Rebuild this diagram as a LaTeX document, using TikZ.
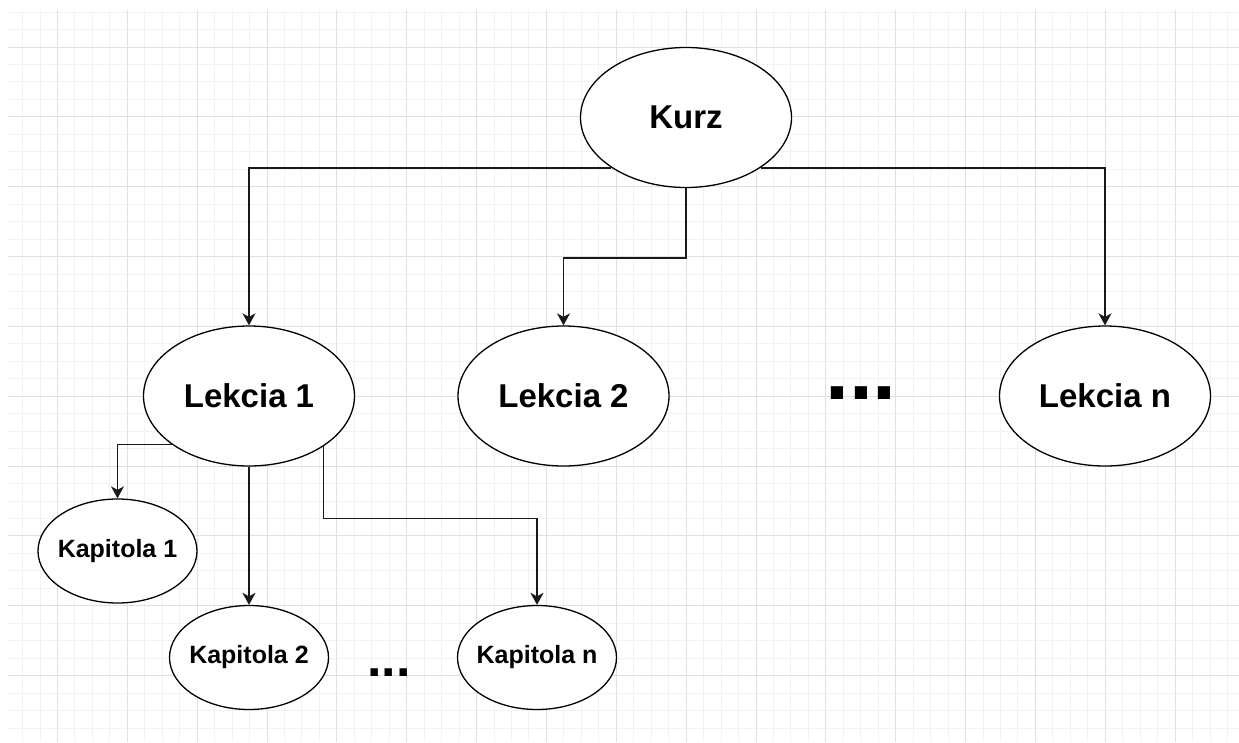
\documentclass[tikz,border=0pt]{standalone}
\usepackage{fontspec}
\setmainfont{Liberation Sans}
\usetikzlibrary{arrows.meta,shapes.geometric}
\begin{document}
\begin{tikzpicture}[x=1pt,y=-1pt,
  minorline/.style={draw=black!5, line width=1pt},
  majorline/.style={draw=black!12, line width=1pt},
  bigbubble/.style={ellipse, draw=black, line width=1.3pt, fill=white, inner sep=0pt,
    minimum width=211pt, minimum height=140pt, font=\bfseries\fontsize{33}{33}\selectfont},
  smallbubble/.style={ellipse, draw=black, line width=1.3pt, fill=white, inner ysep=0pt, inner xsep=-8pt,
    minimum width=159pt, minimum height=104pt, font=\bfseries\fontsize{25}{25}\selectfont},
  conn/.style={draw=black!90, line width=1.5pt, -{Stealth[length=12pt,width=13pt,inset=3.5pt]}},
  bigdots/.style={inner sep=0pt, anchor=base, font=\bfseries\fontsize{86}{86}\selectfont},
  smalldots/.style={inner sep=0pt, anchor=base, font=\bfseries\fontsize{52}{52}\selectfont}
]
\useasboundingbox (0,0) rectangle (1239,742);
\fill[white] (0,0) rectangle (1239,742);
\begin{scope}
  \clip (8,10) rectangle (1239,742);
  \foreach \k in {0,...,71} \draw[minorline] ({5.11+17.4625*\k},0) -- ++(0,742);
  \foreach \k in {0,...,42} \draw[minorline] (0,{12.1+17.4625*\k}) -- ++(1239,0);
  \foreach \k in {0,...,17} \draw[majorline] ({57.5+69.85*\k},0) -- ++(0,742);
  \foreach \k in {0,...,10} \draw[majorline] (0,{47+69.85*\k}) -- ++(1239,0);
\end{scope}

\node[bigbubble] (kurz) at (686,117.5) {Kurz};
\node[bigbubble] (l1) at (249,396) {Lekcia 1};
\node[bigbubble] (l2) at (563.5,396) {Lekcia 2};
\node[bigbubble] (ln) at (1105,396) {Lekcia n};
\node[smallbubble] (k1) at (117.5,551) {Kapitola 1};
\node[smallbubble] (k2) at (249,657.5) {Kapitola 2};
\node[smallbubble] (kn) at (537,657.5) {Kapitola n};

\node[bigdots] (dotsa) at (861,399) {...};
\node[smalldots] (dotsb) at (389,676) {...};

\draw[conn] (kurz.214) -| (l1.north);
\draw[conn] (kurz.south) -- ++(0,70) -| (l2.north);
\draw[conn] (kurz.326) -| (ln.north);
\draw[conn] (l1.212) -| (k1.north);
\draw[conn] (l1.south) -- (k2.north);
\draw[conn] (l1.326) -- ++(0,72) -| (kn.north);
\end{tikzpicture}
\end{document}
